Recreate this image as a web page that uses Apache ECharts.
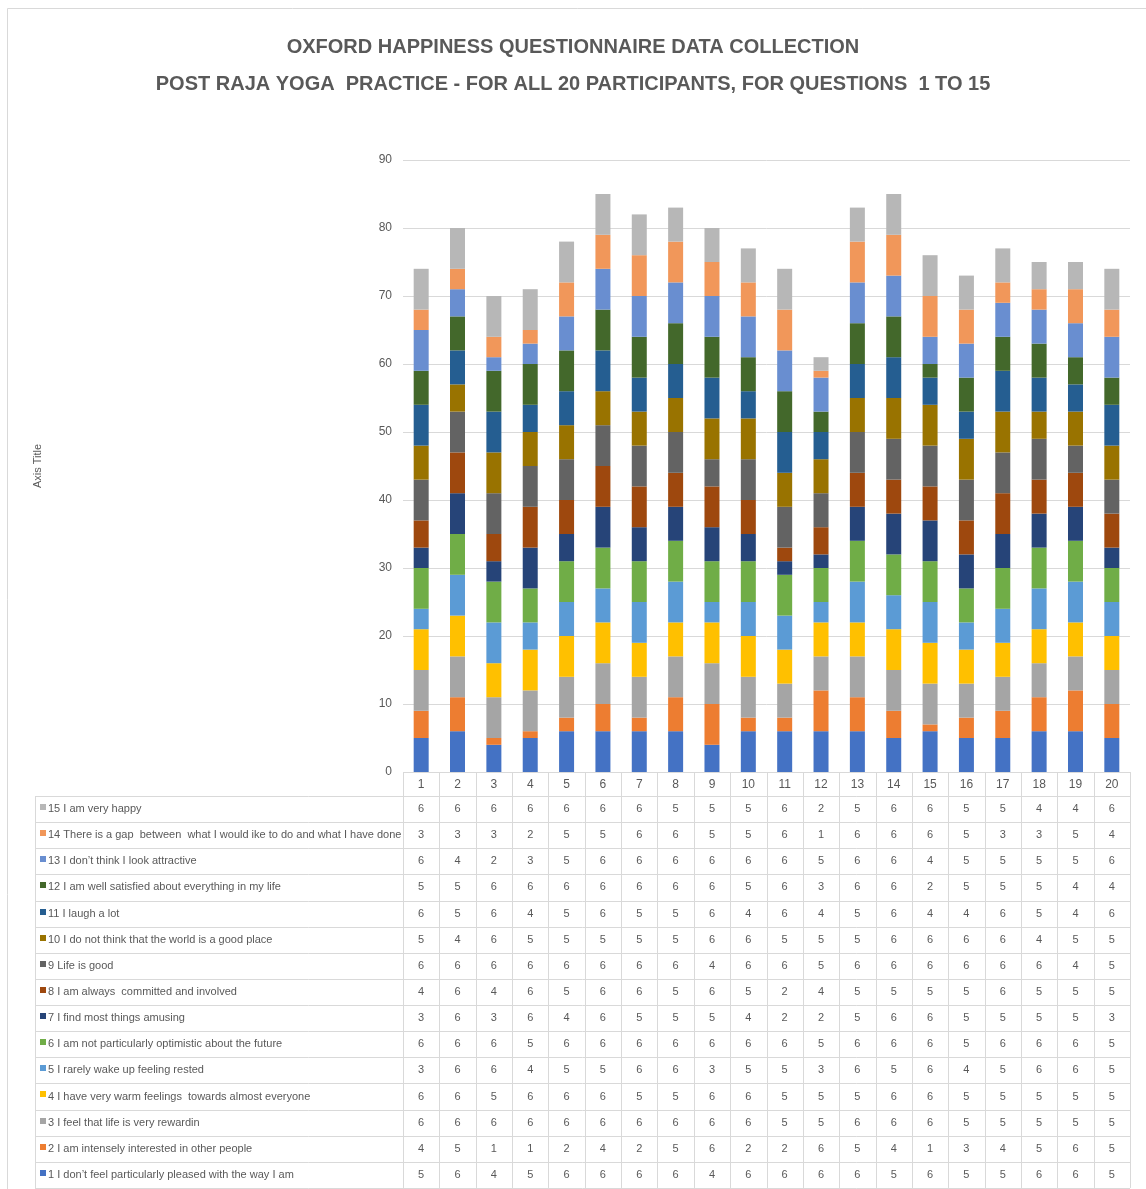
<!DOCTYPE html>
<html>
<head>
<meta charset="utf-8">
<script src="https://cdn.jsdelivr.net/npm/echarts@6/dist/echarts.min.js"></script>
<style>
html,body{margin:0;padding:0;background:#fff;}
#chart{width:1146px;height:1189px;}
</style>
</head>
<body>
<div id="chart"></div>
<script>
const participants = ['1','2','3','4','5','6','7','8','9','10','11','12','13','14','15','16','17','18','19','20'];
const questionLabels = [
  '1 I don\u2019t feel particularly pleased with the way I am',
  '2 I am intensely interested in other people',
  '3 I feel that life is very rewardin',
  '4 I have very warm feelings  towards almost everyone',
  '5 I rarely wake up feeling rested',
  '6 I am not particularly optimistic about the future',
  '7 I find most things amusing',
  '8 I am always  committed and involved',
  '9 Life is good',
  '10 I do not think that the world is a good place',
  '11 I laugh a lot',
  '12 I am well satisfied about everything in my life',
  '13 I don\u2019t think I look attractive',
  '14 There is a gap  between  what I would ike to do and what I have done',
  '15 I am very happy'
];
const q1  = [5,6,4,5,6,6,6,6,4,6,6,6,6,5,6,5,5,6,6,5];
const q2  = [4,5,1,1,2,4,2,5,6,2,2,6,5,4,1,3,4,5,6,5];
const q3  = [6,6,6,6,6,6,6,6,6,6,5,5,6,6,6,5,5,5,5,5];
const q4  = [6,6,5,6,6,6,5,5,6,6,5,5,5,6,6,5,5,5,5,5];
const q5  = [3,6,6,4,5,5,6,6,3,5,5,3,6,5,6,4,5,6,6,5];
const q6  = [6,6,6,5,6,6,6,6,6,6,6,5,6,6,6,5,6,6,6,5];
const q7  = [3,6,3,6,4,6,5,5,5,4,2,2,5,6,6,5,5,5,5,3];
const q8  = [4,6,4,6,5,6,6,5,6,5,2,4,5,5,5,5,6,5,5,5];
const q9  = [6,6,6,6,6,6,6,6,4,6,6,5,6,6,6,6,6,6,4,5];
const q10 = [5,4,6,5,5,5,5,5,6,6,5,5,5,6,6,6,6,4,5,5];
const q11 = [6,5,6,4,5,6,5,5,6,4,6,4,5,6,4,4,6,5,4,6];
const q12 = [5,5,6,6,6,6,6,6,6,5,6,3,6,6,2,5,5,5,4,4];
const q13 = [6,4,2,3,5,6,6,6,6,6,6,5,6,6,4,5,5,5,5,6];
const q14 = [3,3,3,2,5,5,6,6,5,5,6,1,6,6,6,5,3,3,5,4];
const q15 = [6,6,6,6,6,6,6,5,5,5,6,2,5,6,6,5,5,4,4,6];
const questionValues = [q1,q2,q3,q4,q5,q6,q7,q8,q9,q10,q11,q12,q13,q14,q15];
const colors = ['#4472C4','#ED7D31','#A5A5A5','#FFC000','#5B9BD5','#70AD47','#264478','#9E480E','#636363','#997300','#255E91','#43682B','#698ED0','#F1975A','#B7B7B7'];

const FONT = "'Liberation Sans Narrow','Liberation Sans',sans-serif";
const TXT = '#595959';
const LINE = '#d9d9d9';
const GRID_LEFT = 403, GRID_RIGHT_X = 1130, GRID_TOP = 160, AXIS_Y = 772;
const TABLE_LEFT = 35, ROW0 = 796, ROW_H = 26.13;

const chart = echarts.init(document.getElementById('chart'), null, {renderer:'canvas'});

const series = questionValues.map((vals, i) => ({
  name: questionLabels[i],
  type: 'bar',
  stack: 'total',
  barWidth: 15,
  itemStyle: {color: colors[i]},
  data: vals
}));

chart.setOption({
  animation: false,
  backgroundColor: '#fff',
  title: [
    {text: 'OXFORD HAPPINESS QUESTIONNAIRE DATA COLLECTION', left: 'center', top: 32,
     textStyle: {fontFamily: FONT, fontSize: 20, fontWeight: 'bold', color: TXT}},
    {text: 'POST RAJA YOGA  PRACTICE - FOR ALL 20 PARTICIPANTS, FOR QUESTIONS  1 TO 15', left: 'center', top: 69,
     textStyle: {fontFamily: FONT, fontSize: 20, fontWeight: 'bold', color: TXT}}
  ],
  grid: {left: GRID_LEFT, right: 1146 - GRID_RIGHT_X, top: GRID_TOP, bottom: 1189 - AXIS_Y, containLabel: false},
  xAxis: {
    type: 'category',
    data: participants,
    axisLine: {show: false},
    axisTick: {show: false},
    axisLabel: {fontFamily: FONT, fontSize: 12, color: TXT, margin: 7}
  },
  yAxis: {
    type: 'value',
    min: 0, max: 90, interval: 10,
    name: 'Axis Title',
    nameLocation: 'middle',
    nameGap: 360,
    nameTextStyle: {fontFamily: FONT, fontSize: 11, color: TXT},
    axisLine: {show: false},
    axisTick: {show: false},
    axisLabel: {fontFamily: FONT, fontSize: 12, color: TXT, margin: 11},
    splitLine: {lineStyle: {color: LINE, width: 1}}
  },
  series: series
});

// Build data table beneath the chart
const g = [];
g.push({type:'rect', shape:{x:7.5, y:8.5, width:1150, height:1200}, style:{fill:'none', stroke:LINE, lineWidth:1}, silent:true});
const colX = [];
for (let j = 0; j < participants.length; j++) colX.push(chart.convertToPixel({xAxisIndex:0}, j));
const half = (colX[1] - colX[0]) / 2;
const nRows = questionLabels.length;
const tableBottom = ROW0 + nRows * ROW_H;
g.push({type:'line', shape:{x1:colX[0]-half, y1:AXIS_Y+0.5, x2:colX[colX.length-1]+half, y2:AXIS_Y+0.5}, style:{stroke:LINE, lineWidth:1}, silent:true});
for (let k = 0; k <= nRows; k++) {
  const y = Math.round(ROW0 + k*ROW_H) + 0.5;
  g.push({type:'line', shape:{x1:TABLE_LEFT, y1:y, x2:colX[colX.length-1]+half, y2:y}, style:{stroke:LINE, lineWidth:1}, silent:true});
}
for (let j = 0; j <= colX.length; j++) {
  const x = Math.round((j < colX.length ? colX[j] - half : colX[colX.length-1] + half)) + 0.5;
  g.push({type:'line', shape:{x1:x, y1:AXIS_Y, x2:x, y2:tableBottom}, style:{stroke:LINE, lineWidth:1}, silent:true});
}
g.push({type:'line', shape:{x1:TABLE_LEFT+0.5, y1:ROW0, x2:TABLE_LEFT+0.5, y2:tableBottom}, style:{stroke:LINE, lineWidth:1}, silent:true});
for (let r = 0; r < nRows; r++) {
  const qi = nRows - 1 - r;
  const cy = ROW0 + r*ROW_H + ROW_H/2;
  g.push({type:'rect', shape:{x:40, y:Math.round(cy)-5, width:6, height:6}, style:{fill:colors[qi]}, silent:true});
  g.push({type:'text', x:48, y:cy, style:{text:questionLabels[qi], fontFamily:FONT, fontSize:11, fill:TXT, verticalAlign:'middle', align:'left'}, silent:true});
  for (let j = 0; j < colX.length; j++) {
    g.push({type:'text', x:colX[j], y:cy, style:{text:String(questionValues[qi][j]), fontFamily:FONT, fontSize:11, fill:TXT, verticalAlign:'middle', align:'center'}, silent:true});
  }
}
chart.setOption({graphic: g});
</script>
</body>
</html>
